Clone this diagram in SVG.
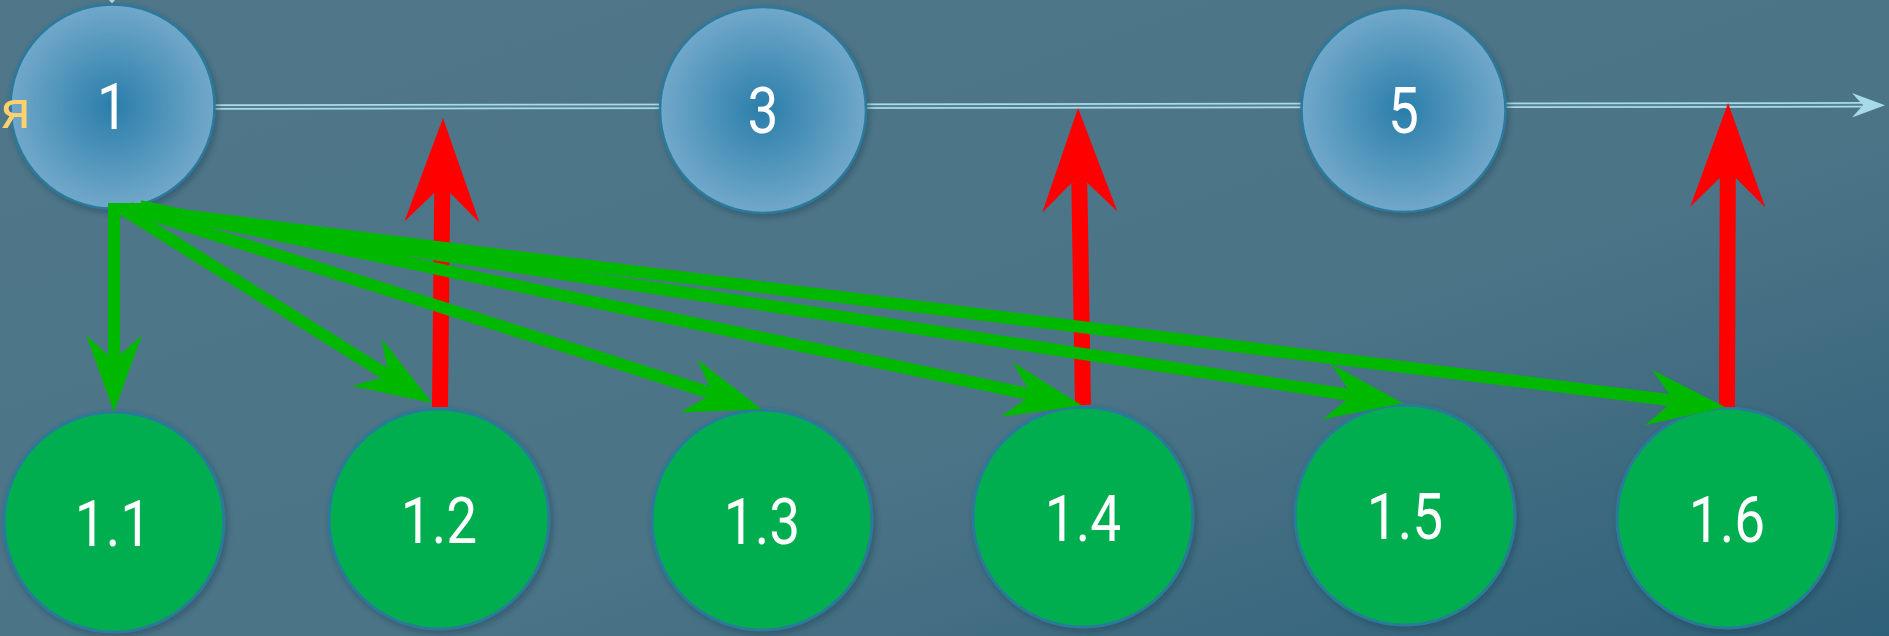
<svg xmlns="http://www.w3.org/2000/svg" width="1889" height="636" viewBox="0 0 1889 636">
  <style>
    .top { fill: url(#gBlue); stroke: #2b7a9e; stroke-width: 2.5; filter: url(#sh); }
    .sub { fill: #00ae50; stroke: #2b7a9b; stroke-width: 3; filter: url(#sh); }
    .lbl { font-family: Roboto, "Liberation Sans", sans-serif; font-size: 64px; fill: #ffffff; text-anchor: middle; }
    .red { stroke: #ff0000; stroke-width: 16; fill: none; marker-end: url(#mRed); }
    .grn { stroke: #00b800; stroke-width: 12; fill: none; marker-end: url(#mGreen); }
  </style>
  <defs>
    <linearGradient id="bg" x1="0" y1="0" x2="1" y2="1">
      <stop offset="0" stop-color="#4f7789"/>
      <stop offset="0.6" stop-color="#4c7487"/>
      <stop offset="1" stop-color="#2f6079"/>
    </linearGradient>
    <radialGradient id="gBlue" cx="0.5" cy="0.5" r="0.5">
      <stop offset="0" stop-color="#2a7eaa"/>
      <stop offset="1" stop-color="#71a8ca"/>
    </radialGradient>
    <filter id="sh" x="-20%" y="-20%" width="140%" height="140%">
      <feDropShadow dx="2" dy="3" stdDeviation="3" flood-color="#1a3a4a" flood-opacity="0.45"/>
    </filter>
    <marker id="mRed" markerUnits="userSpaceOnUse" viewBox="-30 -40 110 80" refX="0" refY="0" markerWidth="110" markerHeight="80" orient="auto" overflow="visible">
      <path d="M75,0 L-29,37.5 L0,8 L0,-8 L-29,-37.5 Z" fill="#ff0000"/>
    </marker>
    <marker id="mGreen" markerUnits="userSpaceOnUse" viewBox="-22 -30 82 60" refX="0" refY="0" markerWidth="82" markerHeight="60" orient="auto" overflow="visible">
      <path d="M57,0 L-20,28 L0,6 L0,-6 L-20,-28 Z" fill="#00b800"/>
    </marker>
  </defs>
  <rect x="0" y="0" width="1889" height="636" fill="url(#bg)"/>

  <g id="timeline">
    <line x1="215" y1="107" x2="1862" y2="104.8" stroke="#a8dbe8" stroke-width="5.5"/>
    <line x1="215" y1="107" x2="1862" y2="104.8" stroke="#56808f" stroke-width="2"/>
    <path d="M1885,105.3 L1852,93 L1863,105.2 L1852,117.5 Z" fill="#a8dbe8"/>
    <path d="M109,0 L115,0 L112,3.5 Z" fill="#a8dbe8"/>
  </g>

  <g id="node-1">
    <circle class="top" cx="112.5" cy="106.5" r="102"/>
    <text class="lbl" transform="translate(112.5,129) scale(0.86,1)">1</text>
  </g>
  <g id="node-3">
    <circle class="top" cx="763" cy="110" r="103"/>
    <text class="lbl" transform="translate(763,133) scale(0.86,1)">3</text>
  </g>
  <g id="node-5">
    <circle class="top" cx="1403.5" cy="110" r="102"/>
    <text class="lbl" transform="translate(1403.5,133) scale(0.86,1)">5</text>
  </g>
  <text x="1" y="128" font-family="Roboto, 'Liberation Sans', sans-serif" font-size="54" fill="#ffd06e">я</text>

  <g id="node-1-1">
    <circle class="sub" cx="114" cy="522" r="110"/>
    <text class="lbl" transform="translate(113,546) scale(0.86,1)">1.1</text>
  </g>
  <g id="node-1-2">
    <circle class="sub" cx="439" cy="519" r="110"/>
    <text class="lbl" transform="translate(439,543) scale(0.86,1)">1.2</text>
  </g>
  <g id="node-1-3">
    <circle class="sub" cx="762" cy="520" r="110"/>
    <text class="lbl" transform="translate(762,544) scale(0.86,1)">1.3</text>
  </g>
  <g id="node-1-4">
    <circle class="sub" cx="1083" cy="517" r="110"/>
    <text class="lbl" transform="translate(1083,541) scale(0.86,1)">1.4</text>
  </g>
  <g id="node-1-5">
    <circle class="sub" cx="1405" cy="515" r="110"/>
    <text class="lbl" transform="translate(1405,539) scale(0.86,1)">1.5</text>
  </g>
  <g id="node-1-6">
    <circle class="sub" cx="1727" cy="518" r="110"/>
    <text class="lbl" transform="translate(1727,542) scale(0.86,1)">1.6</text>
  </g>

  <g id="connectors">
    <line class="red" x1="440" y1="407" x2="442.2" y2="193"/>
    <line class="red" x1="1083" y1="405" x2="1079.3" y2="183"/>
    <line class="red" x1="1727" y1="407" x2="1727.8" y2="178"/>

    <line class="grn" x1="114" y1="204" x2="114" y2="355"/>
    <line class="grn" x1="122" y1="209" x2="383.7" y2="372.8"/>
    <line class="grn" x1="130" y1="208" x2="707.6" y2="392"/>
    <line class="grn" x1="140" y1="206" x2="1026.2" y2="393.6"/>
    <line class="grn" x1="140" y1="209" x2="1346.6" y2="394.5"/>
    <line class="grn" x1="140" y1="210" x2="1668.4" y2="400"/>
    <path d="M108,203 L145,203 L145,213 L108,213 Z" fill="#00b800"/>
  </g>
</svg>
